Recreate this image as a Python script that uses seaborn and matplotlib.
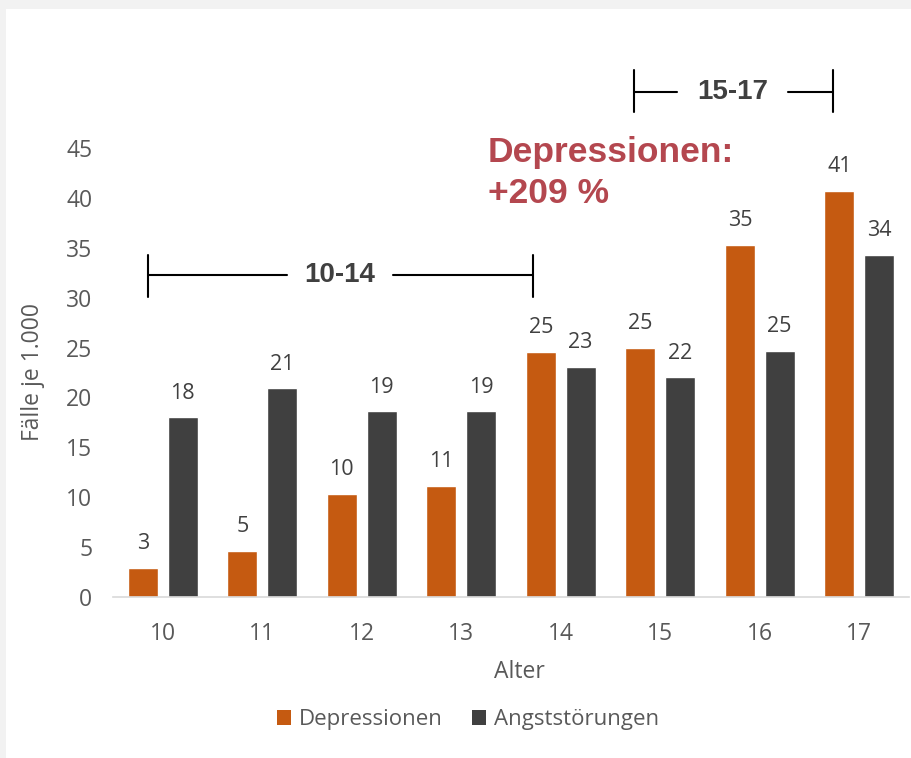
import matplotlib
matplotlib.use("Agg")
import matplotlib.pyplot as plt
from matplotlib.lines import Line2D
from matplotlib.patches import Rectangle
import pandas as pd
import seaborn as sns

# data
alter = ["10", "11", "12", "13", "14", "15", "16", "17"]
depressionen = [2.9, 4.6, 10.3, 11.1, 24.6, 25.0, 35.3, 40.7]
angststoerungen = [18.0, 20.9, 18.6, 18.6, 23.1, 22.0, 24.7, 34.3]
serien = ["Depressionen", "Angststörungen"]
farben = {"Depressionen": "#c55a11", "Angststörungen": "#404040"}
y_ticks = [0, 5, 10, 15, 20, 25, 30, 35, 40, 45]

df = pd.DataFrame({
    "Alter": alter * 2,
    "Wert": depressionen + angststoerungen,
    "Reihe": [serien[0]] * len(alter) + [serien[1]] * len(alter),
})

sns.set_theme(style="white")
plt.rcParams["font.family"] = ["Open Sans", "DejaVu Sans"]

W, H = 912, 758
fig = plt.figure(figsize=(W / 100, H / 100), dpi=100)
fig.patch.set_facecolor("#f2f2f2")
fig.patches.append(Rectangle((6 / W, 0), 1, 1 - 9 / H, transform=fig.transFigure,
                             facecolor="white", edgecolor="none", zorder=-10))

ax = fig.add_axes([113 / W, (H - 597) / H, 796 / W, 449 / H])
ax.set_zorder(1)
ax.patch.set_alpha(0)

sns.barplot(data=df, x="Alter", y="Wert", hue="Reihe", palette=farben,
            width=0.8, gap=0.25, saturation=1, ax=ax, legend=False)

grau = "#595959"
for cont in ax.containers:
    ax.bar_label(cont, fmt="%.0f", padding=10, fontsize=15.5, color="#404040")

ax.set_ylim(0, 45)
ax.set_yticks(y_ticks)
ax.set_xlim(-0.5, len(alter) - 0.5)
sns.despine(ax=ax, left=True)
ax.spines["bottom"].set_color("#d9d9d9")
ax.spines["bottom"].set_linewidth(1.2)
ax.tick_params(axis="both", length=0, labelsize=16.5, labelcolor=grau)
ax.tick_params(axis="y", pad=15)
ax.tick_params(axis="x", pad=18)

ax.set_xlabel("Alter", fontsize=16.5, color=grau)
ax.xaxis.label.set_va("center")
ax.xaxis.set_label_coords((519 - 113) / 796, -(672 - 597) / 449)
ax.set_ylabel("Fälle je 1.000", fontsize=16.5, color=grau)
ax.yaxis.label.set_va("center")
ax.yaxis.set_label_coords((33 - 113) / 796, (597 - 372) / 449)

# legend
handles = [Rectangle((0, 0), 1, 1, facecolor=farben[s], edgecolor="none") for s in serien]
fig.legend(handles, serien, loc="center", bbox_to_anchor=(468 / W, 1 - 720 / H),
           ncol=2, frameon=False, fontsize=16, handlelength=0.65, handleheight=0.65,
           handletextpad=0.35, columnspacing=1.3, labelcolor=grau)


def fx(px):
    return px / W


def fy(py):
    return 1 - py / H


def klammer(x0, x1, y, ya, yb, g0, g1, label, xt):
    for seg in [((x0, x0), (ya, yb)), ((x1, x1), (ya, yb)), ((x0, g0), (y, y)), ((g1, x1), (y, y))]:
        fig.add_artist(Line2D([fx(v) for v in seg[0]], [fy(v) for v in seg[1]],
                              color="black", lw=1.5))
    fig.text(fx(xt), fy(y), label, ha="center", va="center", fontsize=20,
             fontweight="bold", color="#404040", family=["Liberation Sans", "DejaVu Sans"])


klammer(148, 533, 275, 255, 297, 287, 393, "10-14", 340)
klammer(634, 833, 92, 70, 112, 677, 788, "15-17", 733)

rot = "#b4474f"
fig.text(fx(488), fy(162), "Depressionen:", ha="left", va="baseline", fontsize=25.5,
         fontweight="bold", color=rot, family=["Liberation Sans", "DejaVu Sans"])
fig.text(fx(488), fy(203), "+209 %", ha="left", va="baseline", fontsize=25.5,
         fontweight="bold", color=rot, family=["Liberation Sans", "DejaVu Sans"])

fig.savefig("out.png", dpi=100)
